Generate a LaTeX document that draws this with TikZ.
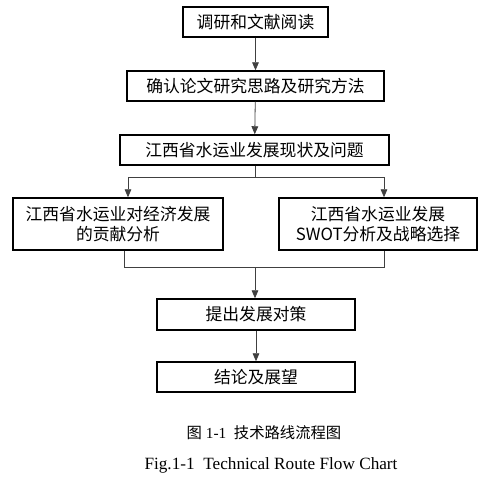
\documentclass[tikz,border=0pt]{standalone}
\usepackage{fontspec}
\setmainfont{Liberation Serif}
\newfontfamily\cjk{Noto Sans CJK SC}
\usetikzlibrary{arrows.meta}

\tikzset{
  box/.style={draw, line width=1.1pt, inner sep=0pt, align=center,
    font=\cjk\fontsize{12.6}{15}\selectfont},
  flow/.style={line width=0.6pt, draw=black!75},
  arr/.style={flow, -{Triangle[length=6pt,width=5pt]}}
}

\begin{document}
\begin{tikzpicture}[x=0.75pt,y=0.75pt,yscale=-1,xscale=1]
\useasboundingbox (0,0) rectangle (498,490);

%Shape: Boxes
\node [box, minimum width=145*0.75pt, minimum height=30*0.75pt] (read) at (255.5,22) {调研和文献阅读};
\node [box, minimum width=257*0.75pt, minimum height=30*0.75pt] (idea) at (255.5,86) {确认论文研究思路及研究方法};
\node [box, minimum width=269*0.75pt, minimum height=30*0.75pt] (state) at (254.5,150) {江西省水运业发展现状及问题};
\node [box, minimum width=210*0.75pt, minimum height=52*0.75pt] (econ) at (118,224) {江西省水运业对经济发展\\的贡献分析};
\node [box, minimum width=198*0.75pt, minimum height=52*0.75pt] (swot) at (378,224) {江西省水运业发展\\SWOT分析及战略选择};
\node [box, minimum width=198*0.75pt, minimum height=31*0.75pt] (plan) at (256,314.5) {提出发展对策};
\node [box, minimum width=198*0.75pt, minimum height=30*0.75pt] (end) at (256,377) {结论及展望};

%Split and merge points
\coordinate (sp) at (255,177);
\coordinate (spL) at (128,177);
\coordinate (spR) at (384,177);
\coordinate (mg) at (255,267);
\coordinate (mgL) at (124,267);
\coordinate (mgR) at (384,267);

%Straight Lines
\draw [arr] (read) -- (idea);
\draw [arr] (idea) -- (state);
\draw [flow] (state.south -| sp) -- (sp);
\draw [flow] (spL) -- (spR);
\draw [arr] (spL) -- (spL |- econ.north);
\draw [arr] (spR) -- (spR |- swot.north);
\draw [flow] (mgL |- econ.south) -- (mgL) -- (mgR) -- (mgR |- swot.south);
\draw [arr] (mg) -- (mg |- plan.north);
\draw [arr] (plan) -- (end);

% Text Node
\node [font=\fontsize{11.5}{13}\selectfont] (capcn) at (264,433) {{\cjk 图} 1-1\ \ {\cjk 技术路线流程图}};
% Text Node
\node [font=\fontsize{12.9}{15}\selectfont] (capen) at (271,465) {Fig.1-1\ \ Technical Route Flow Chart};

\end{tikzpicture}
\end{document}
